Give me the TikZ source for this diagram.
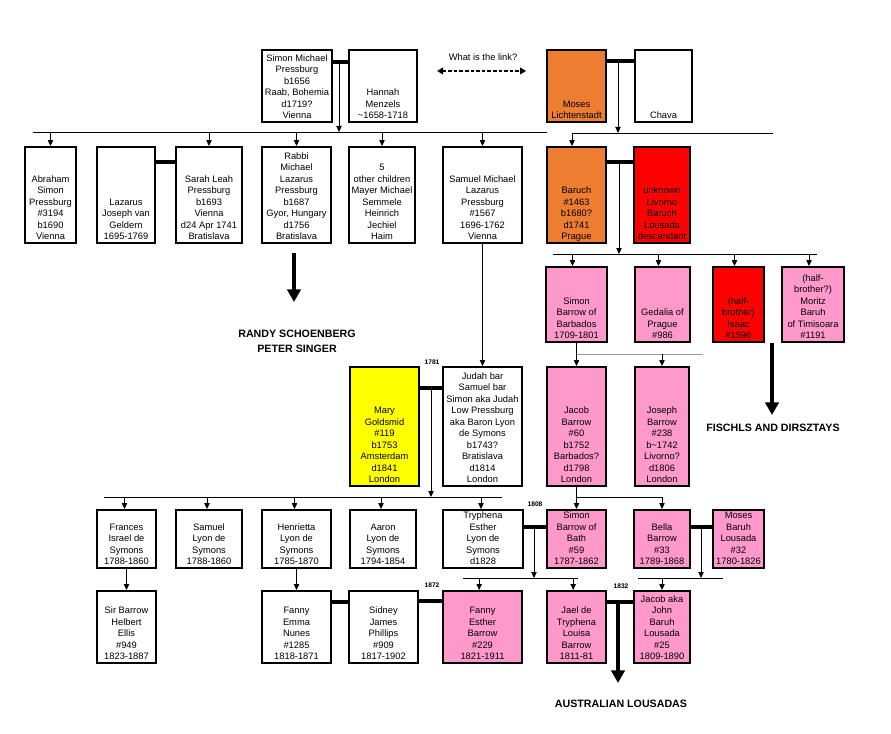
\documentclass[tikz,border=0pt]{standalone}
\usepackage{fontspec}
\setmainfont{Liberation Sans}
\usetikzlibrary{arrows.meta,fit}
\definecolor{orng}{HTML}{ED7D31}
\definecolor{pnk}{HTML}{FF99CC}
\definecolor{rd}{HTML}{FF0000}
\definecolor{ylw}{HTML}{FFFF00}
\tikzset{
  pbox/.style={draw=black, line width=1.4pt, inner sep=0pt, rectangle},
  ptext/.style={anchor=south, align=center, inner sep=0pt, text depth=0pt,
    font=\fontsize{7}{8.6}\selectfont},
  ln/.style={line width=0.7pt},
  gln/.style={line width=0.7pt, draw=black!40},
  arr/.style={line width=0.7pt, -{Triangle[width=4pt,length=4.5pt]}},
  marr/.style={line width=3.3pt},
  bigarr/.style={line width=3.6pt, -{Triangle[width=10pt,length=9.5pt]}},
  linkarr/.style={line width=1.1pt, dash pattern=on 2.6pt off 1.6pt,
    {Triangle[width=5pt,length=4.5pt]}-{Triangle[width=5pt,length=4.5pt]}},
  yr/.style={font=\bfseries\fontsize{5}{6}\selectfont, inner sep=0pt},
  big/.style={font=\bfseries\fontsize{8}{11.5}\selectfont, align=center, inner sep=0pt},
  linktxt/.style={font=\fontsize{7}{8.6}\selectfont, inner sep=0pt}
}
\newcommand\famnode[7]{%
  \path (#2,#3) coordinate (#1-nw) (#4,#5) coordinate (#1-se);
  \node[pbox, fill=#6, fit=(#1-nw)(#1-se)] (#1) {};
  \node[ptext] (#1-t) at ([yshift=3pt]#1.south) {#7};
}
\begin{document}
\begin{tikzpicture}[x=0.75pt,y=-0.75pt]
\useasboundingbox (0,0) rectangle (891,734);
\fill[white] (0,0) rectangle (891,734);

% ---------- row 0
\famnode{sm}{262}{50}{332}{122}{white}{Simon Michael\\Pressburg\\b1656\\Raab, Bohemia\\d1719?\\Vienna}
\famnode{hm}{349}{50}{417}{122}{white}{Hannah\\Menzels\\\textasciitilde1658-1718}
\famnode{ml}{547}{50}{606}{122}{orng}{Moses\\Lichtenstadt}
\famnode{ch}{635}{50}{692}{122}{white}{Chava}

\node[linktxt] (link) at (483,57) {What is the link?};
\coordinate (lka) at (437,71);
\coordinate (lkb) at (526,71);
\draw[linkarr] (lka) -- (lkb);

% ---------- row 1
\famnode{ab}{25}{147}{76}{243}{white}{Abraham\\Simon\\Pressburg\\\#3194\\b1690\\Vienna}
\famnode{lz}{97}{147}{155}{243}{white}{Lazarus\\Joseph van\\Geldern\\1695-1769}
\famnode{sl}{176}{147}{242}{243}{white}{Sarah Leah\\Pressburg\\b1693\\Vienna\\d24 Apr 1741\\Bratislava}
\famnode{rm}{262}{147}{331}{243}{white}{Rabbi\\Michael\\Lazarus\\Pressburg\\b1687\\Gyor, Hungary\\d1756\\Bratislava}
\famnode{fo}{349}{147}{415}{243}{white}{5\\other children\\Mayer Michael\\Semmele\\Heinrich\\Jechiel\\Haim}
\famnode{sam}{443}{147}{522}{243}{white}{Samuel Michael\\Lazarus\\Pressburg\\\#1567\\1696-1762\\Vienna}
\famnode{ba}{547}{147}{606}{243}{orng}{Baruch\\\#1463\\b1680?\\d1741\\Prague}
\famnode{un}{634}{147}{690}{243}{rd}{unknown\\Livorno\\Baruch\\Lousada\\descendant}

% ---------- row 2
\famnode{sb}{546}{267}{607}{342}{pnk}{Simon\\Barrow of\\Barbados\\1709-1801}
\famnode{gd}{635}{267}{690}{342}{pnk}{Gedalia of\\Prague\\\#986}
\famnode{is}{713}{267}{764}{342}{rd}{(half-\\brother)\\Isaac\\\#1596}
\famnode{mo}{782}{267}{844}{342}{pnk}{(half-\\brother?)\\Moritz\\Baruh\\of Timisoara\\\#1191}

% ---------- row 3
\famnode{mg}{350}{367}{419}{486}{ylw}{Mary\\Goldsmid\\\#119\\b1753\\Amsterdam\\d1841\\London}
\famnode{ju}{443}{367}{522}{486}{white}{Judah bar\\Samuel bar\\Simon aka Judah\\Low Pressburg\\aka Baron Lyon\\de Symons\\b1743?\\Bratislava\\d1814\\London}
\famnode{jb}{547}{367}{606}{486}{pnk}{Jacob\\Barrow\\\#60\\b1752\\Barbados?\\d1798\\London}
\famnode{jo}{635}{367}{689}{486}{pnk}{Joseph\\Barrow\\\#238\\b\textasciitilde1742\\Livorno?\\d1806\\London}

% ---------- row 4
\famnode{fr}{97}{510}{156}{568}{white}{Frances\\Israel de\\Symons\\1788-1860}
\famnode{sa}{176}{510}{242}{568}{white}{Samuel\\Lyon de\\Symons\\1788-1860}
\famnode{he}{262}{510}{331}{568}{white}{Henrietta\\Lyon de\\Symons\\1785-1870}
\famnode{aa}{350}{510}{416}{568}{white}{Aaron\\Lyon de\\Symons\\1794-1854}
\famnode{tr}{443}{510}{523}{568}{white}{Tryphena\\Esther\\Lyon de\\Symons\\d1828}
\famnode{sbb}{547}{510}{606}{568}{pnk}{Simon\\Barrow of\\Bath\\\#59\\1787-1862}
\famnode{be}{634}{510}{690}{568}{pnk}{Bella\\Barrow\\\#33\\1789-1868}
\famnode{mbl}{713}{510}{764}{568}{pnk}{Moses\\Baruh\\Lousada\\\#32\\1780-1826}

% ---------- row 5
\famnode{sir}{97}{591}{156}{663}{white}{Sir Barrow\\Helbert\\Ellis\\\#949\\1823-1887}
\famnode{fe}{262}{591}{331}{663}{white}{Fanny\\Emma\\Nunes\\\#1285\\1818-1871}
\famnode{sj}{349}{591}{418}{663}{white}{Sidney\\James\\Phillips\\\#909\\1817-1902}
\famnode{fes}{443}{591}{522}{663}{pnk}{Fanny\\Esther\\Barrow\\\#229\\1821-1911}
\famnode{jae}{547}{591}{606}{663}{pnk}{Jael de\\Tryphena\\Louisa\\Barrow\\1811-81}
\famnode{jac}{634}{591}{690}{663}{pnk}{Jacob aka\\John\\Baruh\\Lousada\\\#25\\1809-1890}

% ---------- connectors: Simon Michael + Hannah
\coordinate (m1) at (339,62);
\coordinate (l1a) at (33,132);
\coordinate (l1b) at (547,132);
\draw[marr] (sm.east |- m1) -- (hm.west |- m1);
\draw[ln] (l1a) -- (l1b);
\draw[arr] (m1) -- (m1 |- l1a);
\foreach \c in {ab,sl,rm,fo,sam} \draw[arr] (\c.north |- l1a) -- (\c.north);
\draw[marr] (lz.east |- 0,162) -- (sl.west |- 0,162);

% Moses + Chava
\coordinate (m2) at (618,61);
\coordinate (l1c) at (572,133);
\coordinate (l1d) at (773,133);
\draw[marr] (ml.east |- m2) -- (ch.west |- m2);
\draw[ln] (l1c) -- (l1d);
\draw[arr] (m2) -- (m2 |- l1c);
\draw[arr] (l1c) -- (l1c |- ba.north);

% Baruch + unknown
\coordinate (m3) at (619,162);
\coordinate (l2a) at (553,254);
\coordinate (l2b) at (817,254);
\draw[marr] (ba.east |- m3) -- (un.west |- m3);
\draw[ln] (l2a) -- (l2b);
\draw[arr] (m3) -- (m3 |- l2a);
\foreach \c in {sb,gd,is,mo} \draw[arr] ([xshift=-3pt]\c.north |- l2a) -- ([xshift=-3pt]\c.north);

% Rabbi descendants
\coordinate (rs) at (294,253);
\coordinate (re) at (294,302);
\draw[bigarr] (rs) -- (re);
\node[big] (randy) at (297,341) {RANDY SCHOENBERG\\PETER SINGER};

% Isaac descendants
\coordinate (fs) at (772,343);
\coordinate (fe2) at (772,415);
\draw[bigarr] (fs) -- (fe2);
\node[big] (fisch) at (773,428) {FISCHLS AND DIRSZTAYS};

% Samuel Michael -> Judah
\draw[arr] (sam.south) -- (ju.north);

% Simon Barrow of Barbados -> Jacob, Joseph
\coordinate (l3a) at (577,354);
\coordinate (l3b) at (703,354);
\draw[arr] (sb.south) -- (jb.north);
\draw[gln] (l3a) -- (l3b);
\draw[arr] (l3a -| jo.north) -- (jo.north);

% Mary + Judah
\coordinate (m4) at (431,388);
\coordinate (l4a) at (104,497);
\coordinate (l4b) at (502,497);
\node[yr] (y1781) at (432,362) {1781};
\draw[marr] (mg.east |- m4) -- (ju.west |- m4);
\draw[ln] (l4a) -- (l4b);
\draw[arr] (m4) -- (m4 |- l4a);
\foreach \c in {fr,sa,he,aa,tr} \draw[arr] ([xshift=-1.5pt]\c.north |- l4a) -- ([xshift=-1.5pt]\c.north);

% Jacob -> Simon of Bath, Bella
\draw[arr] (jb.south) -- (sbb.north);
\draw[arr] (jb.south |- l4a) -| (be.north);

% Tryphena + Simon of Bath
\coordinate (m5) at (534,527);
\coordinate (l6a) at (463,578);
\coordinate (l6b) at (578,578);
\node[yr] (y1808) at (535,504) {1808};
\draw[marr] (tr.east |- m5) -- (sbb.west |- m5);
\draw[ln] (l6a) -- (l6b);
\draw[arr] (m5) -- (m5 |- l6a);
\foreach \c in {fes,jae} \draw[arr] ([xshift=-2.5pt]\c.north |- l6a) -- ([xshift=-2.5pt]\c.north);

% Bella + Moses Baruh Lousada
\coordinate (m6) at (701,527);
\coordinate (l7a) at (638,578);
\coordinate (l7b) at (723,578);
\draw[marr] (be.east |- m6) -- (mbl.west |- m6);
\draw[ln] (l7a) -- (l7b);
\draw[arr] (m6) -- (m6 |- l7a);
\draw[arr] (jac.north |- l7a) -- (jac.north);

% Frances -> Sir Barrow, Henrietta -> Fanny Emma
\draw[arr] (fr.south) -- (sir.north);
\draw[arr] (he.south) -- (fe.north);

% marriages row 5
\node[yr] (y1872) at (432,585) {1872};
\draw[marr] (fe.east |- 0,602) -- (sj.west |- 0,602);
\draw[marr] (sj.east |- 0,601) -- (fes.west |- 0,601);
\coordinate (m7) at (618,602);
\coordinate (m7e) at (618,683);
\node[yr] (y1832) at (621,586) {1832};
\draw[marr] (jae.east |- m7) -- (jac.west |- m7);
\draw[bigarr] (m7) -- (m7e);
\node[big] (aus) at (621,704) {AUSTRALIAN LOUSADAS};
\end{tikzpicture}
\end{document}
